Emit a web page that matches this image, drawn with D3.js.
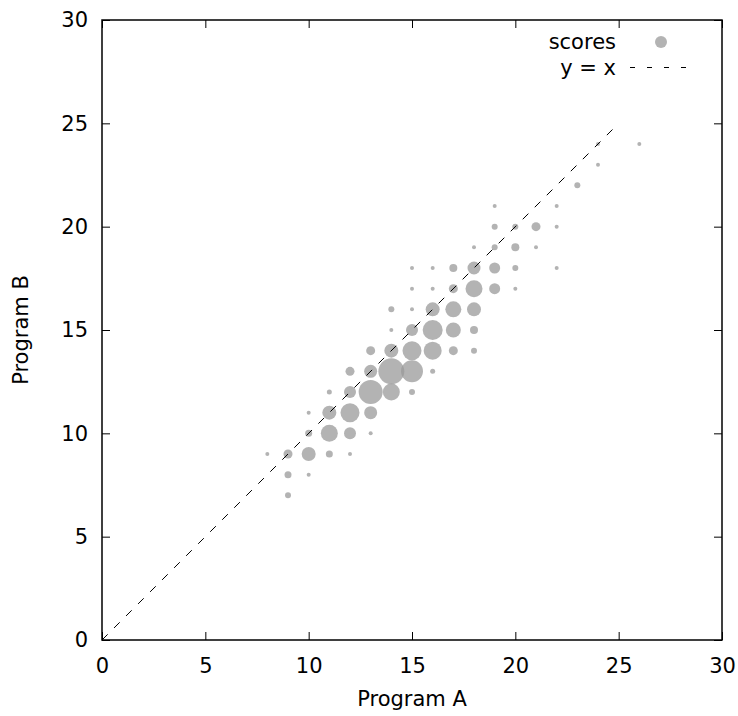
<!DOCTYPE html>
<html>
<head>
<meta charset="utf-8">
<script src="https://cdn.jsdelivr.net/npm/d3@7"></script>
<style>
  body { margin: 0; background: #fff; }
  text { font-family: "DejaVu Sans", sans-serif; }
</style>
</head>
<body>
<div id="chart"></div>
<script>
// score pairs (Program A, Program B) and how many times each pair occurs
var progA = [8, 9, 9, 9, 10, 10, 10, 10, 11, 11, 11, 11, 12, 12, 12, 12, 12,
  13, 13, 13, 13, 13, 14, 14, 14, 14, 14, 15, 15, 15, 15, 15, 15, 15,
  16, 16, 16, 16, 16, 16, 17, 17, 17, 17, 17, 18, 18, 18, 18, 18, 18,
  19, 19, 19, 19, 19, 20, 20, 20, 20, 21, 21, 22, 22, 22, 23, 24, 24, 26];
var progB = [9, 7, 8, 9, 8, 9, 10, 11, 9, 10, 11, 12, 9, 10, 11, 12, 13,
  10, 11, 12, 13, 14, 12, 13, 14, 15, 16, 12, 13, 14, 15, 16, 17, 18,
  13, 14, 15, 16, 17, 18, 14, 15, 16, 17, 18, 14, 15, 16, 17, 18, 19,
  17, 18, 19, 20, 21, 17, 18, 19, 20, 19, 20, 18, 20, 21, 22, 23, 24, 24];
var counts = [1, 2, 2.5, 3.5, 1, 6, 2.5, 1, 2.5, 7.5, 6, 1.5, 1, 5, 8.5, 5, 3.5,
  1, 5.5, 11, 5.5, 3.5, 7.5, 12, 6, 1, 2, 2, 10, 8.5, 5, 1, 1, 1,
  1.5, 8, 9, 6, 1, 1, 3.5, 6.5, 7, 3.5, 3, 2, 3, 6, 7.5, 5.5, 1,
  4.5, 4.5, 2, 2, 1, 1, 2, 3, 2, 1, 3.5, 1, 1, 1, 2, 1, 1, 1];
var ticks = [0, 5, 10, 15, 20, 25, 30];

var width = 738, height = 716;
var margin = { left: 102, right: 16, top: 20, bottom: 76 };
var fontSize = 21;

var svg = d3.select('#chart').append('svg')
  .attr('width', width).attr('height', height);

var x = d3.scaleLinear().domain([0, 30]).range([margin.left, width - margin.right]);
var y = d3.scaleLinear().domain([0, 30]).range([height - margin.bottom, margin.top]);
var r = d3.scaleLinear().domain([0, 12]).range([1, 13]);

// axes, ticks pointing inward and mirrored
svg.append('g').attr('transform', 'translate(0,' + y(0) + ')')
  .call(d3.axisBottom(x).tickValues(ticks).tickSizeInner(-8).tickSizeOuter(0).tickPadding(18));
svg.append('g').attr('transform', 'translate(' + x(0) + ',0)')
  .call(d3.axisLeft(y).tickValues(ticks).tickSizeInner(-8).tickSizeOuter(0).tickPadding(14));
svg.append('g').attr('transform', 'translate(0,' + y(30) + ')')
  .call(d3.axisTop(x).tickValues(ticks).tickSizeInner(-8).tickSizeOuter(0).tickFormat(''));
svg.append('g').attr('transform', 'translate(' + x(30) + ',0)')
  .call(d3.axisRight(y).tickValues(ticks).tickSizeInner(-8).tickSizeOuter(0).tickFormat(''));

svg.selectAll('.domain').remove();
svg.selectAll('.tick line').attr('stroke', '#000').attr('stroke-width', 1);
svg.selectAll('.tick text').attr('font-size', fontSize).attr('fill', '#000');

svg.append('rect')
  .attr('x', x(0)).attr('y', y(30))
  .attr('width', x(30) - x(0)).attr('height', y(0) - y(30))
  .attr('fill', 'none').attr('stroke', '#000').attr('stroke-width', 1.5);

// bubbles
svg.append('g').selectAll('circle')
  .data(progA)
  .enter()
  .append('circle')
  .attr('cx', function(d) { return x(d); })
  .attr('cy', function(d, i) { return y(progB[i]); })
  .attr('r', function(d, i) { return r(counts[i]); })
  .attr('fill', '#999')
  .attr('fill-opacity', 0.75);

// y = x reference
svg.append('line')
  .attr('x1', x(0)).attr('y1', y(0))
  .attr('x2', x(25)).attr('y2', y(25))
  .attr('stroke', '#000').attr('stroke-width', 1)
  .attr('stroke-dasharray', '8,9');

// legend
var legend = svg.append('g');
legend.append('text').attr('x', 616).attr('y', 49)
  .attr('text-anchor', 'end').attr('font-size', fontSize).text('scores');
legend.append('circle').attr('cx', 661).attr('cy', 42).attr('r', 6)
  .attr('fill', '#999').attr('fill-opacity', 0.75);
legend.append('text').attr('x', 616).attr('y', 75)
  .attr('text-anchor', 'end').attr('font-size', fontSize).text('y = x');
legend.append('line').attr('x1', 630).attr('y1', 67.5).attr('x2', 692).attr('y2', 67.5)
  .attr('stroke', '#000').attr('stroke-width', 1).attr('stroke-dasharray', '5,12');

// axis titles
svg.append('text').attr('x', (x(0) + x(30)) / 2).attr('y', 706)
  .attr('text-anchor', 'middle').attr('font-size', fontSize).text('Program A');
svg.append('text')
  .attr('transform', 'translate(28,' + (y(0) + y(30)) / 2 + ') rotate(-90)')
  .attr('text-anchor', 'middle').attr('font-size', fontSize).text('Program B');
</script>
</body>
</html>
